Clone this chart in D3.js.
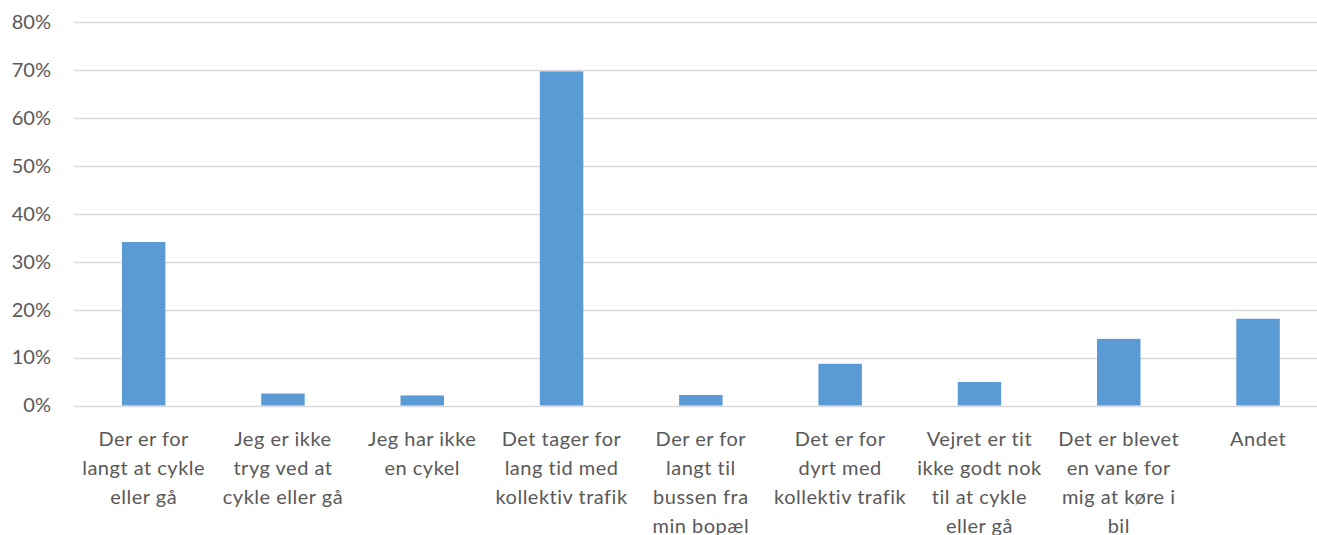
<!DOCTYPE html>
<html>
<head>
<meta charset="utf-8">
<script src="https://cdn.jsdelivr.net/npm/d3@7"></script>
<style>
  body { margin: 0; background: #fff; }
  svg text { font-family: Lato, "Open Sans", sans-serif; fill: #595959; }
</style>
</head>
<body>
<svg id="chart"></svg>
<script>
// categories, one array of wrapped lines per bar (as in the picture)
const categories = [
    ["Der er for", "langt at cykle", "eller gå"],
    ["Jeg er ikke", "tryg ved at", "cykle eller gå"],
    ["Jeg har ikke", "en cykel"],
    ["Det tager for", "lang tid med", "kollektiv trafik"],
    ["Der er for", "langt til", "bussen fra", "min bopæl"],
    ["Det er for", "dyrt med", "kollektiv trafik"],
    ["Vejret er tit", "ikke godt nok", "til at cykle", "eller gå"],
    ["Det er blevet", "en vane for", "mig at køre i", "bil"],
    ["Andet"]
];
const values = [0.341, 0.025, 0.021, 0.697, 0.022, 0.087, 0.049, 0.139, 0.181];
const yTicks = [0, 0.1, 0.2, 0.3, 0.4, 0.5, 0.6, 0.7, 0.8];

const W = 1317, H = 535;
const margin = {top: 22, bottom: 129.5, left: 74};
const bandEnd = 1327.7;   // Excel plot area runs a bit past the crop

const svg = d3.select("#chart")
    .attr("width", W)
    .attr("height", H);

const x = d3.scaleBand()
    .domain(d3.range(categories.length))
    .range([margin.left, bandEnd])
    .paddingInner(0.688)
    .paddingOuter(0.344);
const y = d3.scaleLinear()
    .domain([0, 0.8])
    .range([H - margin.bottom, margin.top]);

// gridlines
svg.append("g")
    .selectAll("line")
    .data(yTicks)
    .join("line")
      .attr("x1", margin.left)
      .attr("x2", W)
      .attr("y1", d => Math.round(y(d)) + 0.5)
      .attr("y2", d => Math.round(y(d)) + 0.5)
      .attr("stroke", "#d9d9d9")
      .attr("stroke-width", 1.5);

// y axis labels
const yAxis = svg.append("g")
    .attr("transform", `translate(${margin.left}, 0)`)
    .call(d3.axisLeft(y).tickValues(yTicks).tickFormat(d3.format(".0%")).tickSize(0).tickPadding(23));
yAxis.select(".domain").remove();
yAxis.selectAll("text")
    .attr("font-size", 20)
    .attr("font-family", null)
    .attr("fill", "#595959");

// bars
svg.append("g")
    .selectAll("rect")
    .data(values)
    .join("rect")
      .attr("x", (d, i) => x(i))
      .attr("y", d => y(d))
      .attr("width", x.bandwidth())
      .attr("height", d => y(0) - y(d))
      .attr("fill", "#5b9bd5");

// category labels
const labels = svg.append("g")
    .selectAll("text")
    .data(categories)
    .join("text")
      .attr("text-anchor", "middle")
      .attr("font-size", 20)
      .attr("letter-spacing", 0.5)
      .attr("x", (d, i) => x(i) + x.bandwidth() / 2)
      .attr("y", y(0) + 40);
labels.selectAll("tspan")
    .data(d => d)
    .join("tspan")
      .attr("x", function() { return this.parentNode.getAttribute("x"); })
      .attr("dy", (d, i) => i === 0 ? 0 : 29)
      .text(d => d);
</script>
</body>
</html>
